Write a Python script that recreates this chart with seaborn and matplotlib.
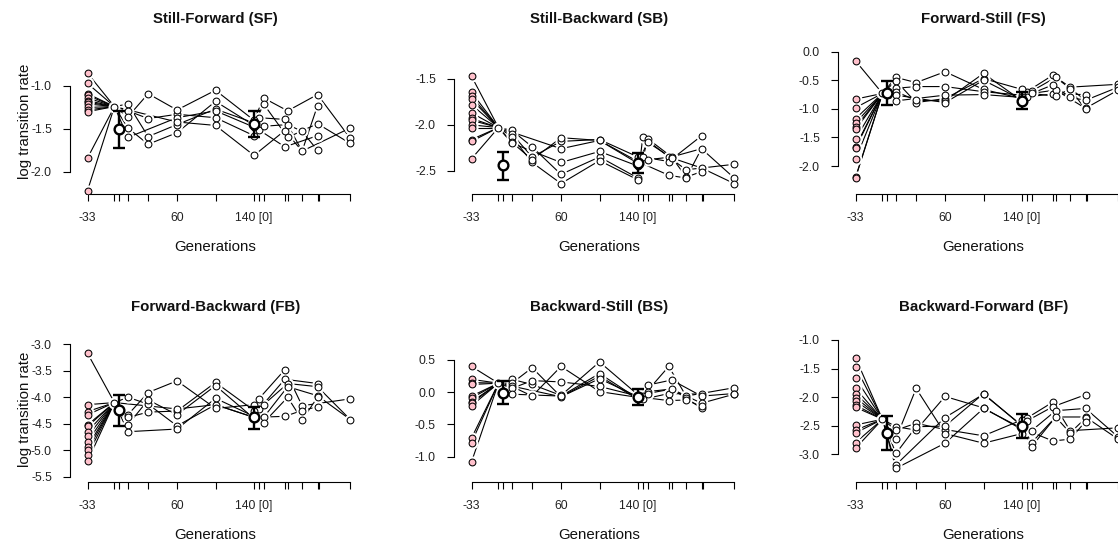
import numpy as np
import pandas as pd
import matplotlib
matplotlib.use("Agg")
import matplotlib.pyplot as plt
from matplotlib.ticker import MultipleLocator, FormatStrFormatter
import seaborn as sns

sns.set_theme(style="ticks")
plt.rcParams["font.family"] = ["Liberation Sans", "DejaVu Sans"]
plt.rcParams["axes.unicode_minus"] = False

N = np.nan

titles = ["Still-Forward (SF)", "Still-Backward (SB)", "Forward-Still (FS)",
          "Forward-Backward (FB)", "Backward-Still (BS)", "Backward-Forward (BF)"]
ylabel_text = "log transition rate"
xlabel_text = "Generations"

tick_positions = [-33, -5, 0, 9, 30, 60, 100, 140, 145, 150, 172, 175, 190, 206, 207.5, 240]
tick_labels = ["-33", "", "", "", "", "60", "", "140 [0]", "", "", "", "", "", "", "", ""]

ancestor_gen = -33
founder_gen = -5
lineage_gens = [9, 30, 60, 100, 140, 145, 150, 172, 175, 190, 206, 240]
mean_gens = [0, 140]

# ancestral strains (pink)
sf_anc = [-0.85, -0.97, -1.09, -1.11, -1.14, -1.17, -1.19, -1.21, -1.25, -1.28, -1.30, -1.84, -2.22]
sb_anc = [-1.47, -1.645, -1.69, -1.72, -1.78, -1.87, -1.93, -1.95, -2.00, -2.03, -2.16, -2.18, -2.37]
fs_anc = [-0.16, -0.83, -0.98, -1.17, -1.25, -1.32, -1.36, -1.53, -1.66, -1.69, -1.88, -2.20, -2.21]
fb_anc = [-3.17, -4.14, -4.27, -4.33, -4.52, -4.55, -4.65, -4.74, -4.84, -4.93, -5.00, -5.09, -5.21]
bs_anc = [0.40, 0.20, 0.15, 0.12, -0.06, -0.09, -0.15, -0.17, -0.21, -0.71, -0.78, -1.08]
bf_anc = [-1.31, -1.47, -1.67, -1.85, -1.94, -2.01, -2.07, -2.14, -2.18, -2.49, -2.58, -2.63, -2.80, -2.90]

# founder population
founders = [-1.24, -2.03, -0.73, -4.10, 0.14, -2.39]

# evolving lineages: rows = lineage, columns = lineage_gens
sf_lin = [
    [-1.21, -1.59, -1.45, -1.27, -1.43, -1.37, N, -1.39, N, -1.76, N, -1.49],
    [-1.29, -1.38, -1.33, -1.37, -1.58, -1.51, N, -1.71, N, N, -1.58, N],
    [-1.36, -1.09, -1.28, -1.05, -1.40, N, -1.14, N, -1.29, N, -1.10, -1.61],
    [-1.49, -1.68, -1.545, -1.18, -1.46, N, -1.21, N, -1.60, N, -1.44, -1.67],
    [-1.60, N, -1.37, -1.29, -1.48, N, -1.47, N, -1.45, -1.53, -1.75, N],
    [N, N, -1.42, -1.46, -1.81, N, N, -1.52, N, -1.76, -1.23, N],
]
sb_lin = [
    [-2.06, -2.24, -2.54, -2.35, -2.58, -2.13, N, -2.35, N, -2.49, N, -2.43],
    [-2.10, -2.35, -2.18, -2.16, -2.35, -2.35, N, -2.40, N, N, -2.12, N],
    [-2.13, -2.41, -2.64, -2.39, -2.60, N, -2.15, N, -2.35, N, -2.26, -2.58],
    [-2.19, -2.38, -2.14, -2.17, -2.42, N, -2.19, N, -2.36, N, -2.47, -2.64],
    [-2.20, N, -2.41, -2.29, -2.45, N, -2.38, N, -2.35, -2.57, -2.51, N],
    [N, N, -2.26, -2.17, -2.40, N, N, -2.55, N, -2.58, -2.26, N],
]
fs_lin = [
    [-0.45, -0.54, -0.35, -0.66, -0.82, -0.70, N, -0.41, N, -0.62, N, -0.57],
    [-0.51, -0.89, -0.82, -0.47, -0.66, -0.79, N, -0.74, N, N, -0.75, N],
    [-0.64, -0.61, -0.61, -0.70, -0.76, N, -0.69, N, -0.45, N, -0.85, -0.62],
    [-0.70, -0.85, -0.86, -0.38, -0.86, N, -0.73, N, -0.67, N, -0.99, -0.67],
    [-0.76, N, -0.89, -0.50, -0.84, N, -0.73, N, -0.78, -0.65, -1.01, N],
    [-0.86, N, -0.76, -0.75, -0.80, N, N, -0.58, N, -0.80, -0.85, N],
]
fb_lin = [
    [-4.00, -4.13, -4.54, -4.14, -4.38, -4.03, N, -3.48, N, -4.16, N, -4.03],
    [-4.33, -3.91, -3.69, -4.21, -4.14, -4.23, N, -3.66, N, N, -3.74, N],
    [-4.38, -4.28, -4.26, -3.72, -4.25, N, -4.14, N, -3.74, N, -3.80, -4.42],
    [-4.52, -4.05, -4.33, -3.78, -4.40, N, -4.38, N, -3.80, N, -3.97, -4.42],
    [-4.65, N, -4.60, -4.02, -4.36, N, -4.48, N, -4.00, -4.43, -4.00, N],
    [N, N, -4.22, -4.14, -4.38, N, N, -4.36, N, -4.25, -4.18, N],
]
bs_lin = [
    [0.20, 0.12, -0.05, 0.47, -0.04, -0.06, N, 0.40, N, -0.06, N, 0.07],
    [0.14, 0.38, -0.07, 0.25, -0.11, -0.11, N, -0.02, N, N, -0.03, N],
    [0.09, -0.06, 0.40, 0.01, -0.08, N, 0.11, N, 0.19, N, -0.06, -0.02],
    [0.06, 0.18, 0.16, 0.09, -0.06, N, 0.01, N, 0.05, N, -0.17, -0.03],
    [-0.03, N, -0.06, 0.29, -0.10, N, -0.02, N, 0.05, -0.09, -0.25, N],
    [N, N, -0.07, 0.21, -0.07, N, N, -0.13, N, -0.12, -0.22, N],
]
bf_lin = [
    [-2.52, -2.58, -1.99, -2.19, -2.57, -2.37, N, -2.09, N, -2.59, N, -2.54],
    [-2.58, -2.46, -2.57, -2.68, -2.40, -2.42, N, -2.17, N, N, -1.96, N],
    [-2.73, -1.85, -2.64, -2.81, -2.64, N, -2.59, N, -2.24, N, -2.20, -2.70],
    [-2.99, -2.52, -2.51, -1.94, -2.51, N, -2.80, N, -2.35, N, -2.35, -2.74],
    [-3.19, N, -2.36, -1.95, -2.50, N, -2.87, N, -2.35, -2.63, -2.37, N],
    [-3.25, N, -2.81, -2.20, -2.55, N, N, -2.77, N, -2.74, -2.43, N],
]

# means with error bars at gen 0 and gen 140
mean0 = [-1.50, -2.44, -0.73, -4.24, -0.01, -2.63]
lo0 = [-1.72, -2.60, -0.93, -4.54, -0.18, -2.93]
hi0 = [-1.29, -2.30, -0.52, -3.96, 0.18, -2.33]
mean140 = [-1.44, -2.42, -0.86, -4.38, -0.08, -2.51]
lo140 = [-1.59, -2.53, -1.00, -4.60, -0.20, -2.71]
hi140 = [-1.29, -2.31, -0.70, -4.18, 0.05, -2.30]

# axis limits
ylims = [(-2.26, -0.557), (-2.754, -1.162), (-2.49, 0.065),
         (-5.60, -2.843), (-1.392, 0.872), (-3.49, -0.93)]
xlim = (-51.2, 251.2)

ancestors = [sf_anc, sb_anc, fs_anc, fb_anc, bs_anc, bf_anc]
lineages = [sf_lin, sb_lin, fs_lin, fb_lin, bs_lin, bf_lin]

W, H = 1118, 546
DPI = 100
fig = plt.figure(figsize=(W / DPI, H / DPI), dpi=DPI)

col_step, row_step = 384, 288
ax_left0, ax_w = 70, 291
ax_top0, ax_h = 48, 146

for i in range(6):
    r, c = divmod(i, 3)
    left = ax_left0 + col_step * c
    top = ax_top0 + row_step * r
    ax = fig.add_axes([left / W, 1 - (top + ax_h) / H, ax_w / W, ax_h / H])
    ax.set_facecolor("white")

    f = founders[i]
    anc = ancestors[i]
    # lines from ancestors to founder
    rows = []
    for k, v in enumerate(anc):
        rows.append({"gen": ancestor_gen, "val": v, "unit": k})
        rows.append({"gen": founder_gen, "val": f, "unit": k})
    dfa = pd.DataFrame(rows)
    sns.lineplot(data=dfa, x="gen", y="val", units="unit", estimator=None,
                 color="black", linewidth=0.8, sort=False, ax=ax, legend=False, zorder=1)

    # lineages
    rows = []
    for k, lin in enumerate(lineages[i]):
        rows.append({"gen": founder_gen, "val": f, "unit": k})
        for g, v in zip(lineage_gens, lin):
            if not np.isnan(v):
                rows.append({"gen": g, "val": v, "unit": k})
    dfl = pd.DataFrame(rows)
    sns.lineplot(data=dfl, x="gen", y="val", units="unit", estimator=None,
                 color="black", linewidth=0.8, sort=False, ax=ax, legend=False, zorder=1)

    # white halos (line gaps around points, like type="b")
    pts_white = dfl.drop_duplicates(subset=["gen", "val"])
    halo = pd.concat([pts_white, pd.DataFrame({"gen": [ancestor_gen] * len(anc), "val": anc})])
    sns.scatterplot(data=halo, x="gen", y="val", color="white", s=75, linewidth=0,
                    ax=ax, legend=False, zorder=2)

    # points
    sns.scatterplot(x=[ancestor_gen] * len(anc), y=anc, color="#FFC0CB", edgecolor="black",
                    linewidth=0.75, s=24, ax=ax, legend=False, zorder=3)
    sns.scatterplot(data=pts_white, x="gen", y="val", color="white", edgecolor="black",
                    linewidth=0.75, s=24, ax=ax, legend=False, zorder=3)

    # means with error bars
    m = [mean0[i], mean140[i]]
    lo = [lo0[i], lo140[i]]
    hi = [hi0[i], hi140[i]]
    yerr = [[mm - l for mm, l in zip(m, lo)], [h - mm for mm, h in zip(m, hi)]]
    ax.errorbar(mean_gens, m, yerr=yerr, fmt="o", mfc="white", mec="black", ms=7,
                mew=1.7, ecolor="black", elinewidth=1.7, capsize=4.5, capthick=1.7,
                zorder=5)

    ax.set_xlim(*xlim)
    ax.set_ylim(*ylims[i])
    ax.set_xticks(tick_positions)
    ax.set_xticklabels(tick_labels)
    ax.yaxis.set_major_locator(MultipleLocator(0.5))
    ax.yaxis.set_major_formatter(FormatStrFormatter("%.1f"))
    yt = [t for t in ax.get_yticks() if ylims[i][0] <= t <= ylims[i][1]]
    ax.set_yticks(yt)

    for s in ["top", "right"]:
        ax.spines[s].set_visible(False)
    ax.spines["left"].set_bounds(min(yt), max(yt))
    ax.spines["bottom"].set_bounds(tick_positions[0], tick_positions[-1])
    for s in ["left", "bottom"]:
        ax.spines[s].set_linewidth(0.8)
        ax.spines[s].set_color("black")
    ax.tick_params(axis="both", direction="out", length=5, width=0.8, color="black",
                   labelsize=8.7, labelcolor="#222222")
    ax.tick_params(axis="x", pad=8)
    ax.tick_params(axis="y", pad=8)
    ax.set_xlabel("")
    ax.set_ylabel("")
    ax.grid(False)

    cx = left + ax_w / 2
    fig.text(cx / W, 1 - (19.5 + row_step * r) / H, titles[i], ha="center", va="center",
             fontsize=10.8, fontweight="bold", color="#111111")
    fig.text(cx / W, 1 - (247 + row_step * r) / H, xlabel_text, ha="center", va="center",
             fontsize=10.8, color="#111111")
    if c == 0:
        fig.text(25 / W, 1 - (121 + row_step * r) / H, ylabel_text, ha="center", va="center",
                 rotation=90, fontsize=10.8, color="#111111")

fig.savefig("out.png", dpi=DPI, facecolor="white")
